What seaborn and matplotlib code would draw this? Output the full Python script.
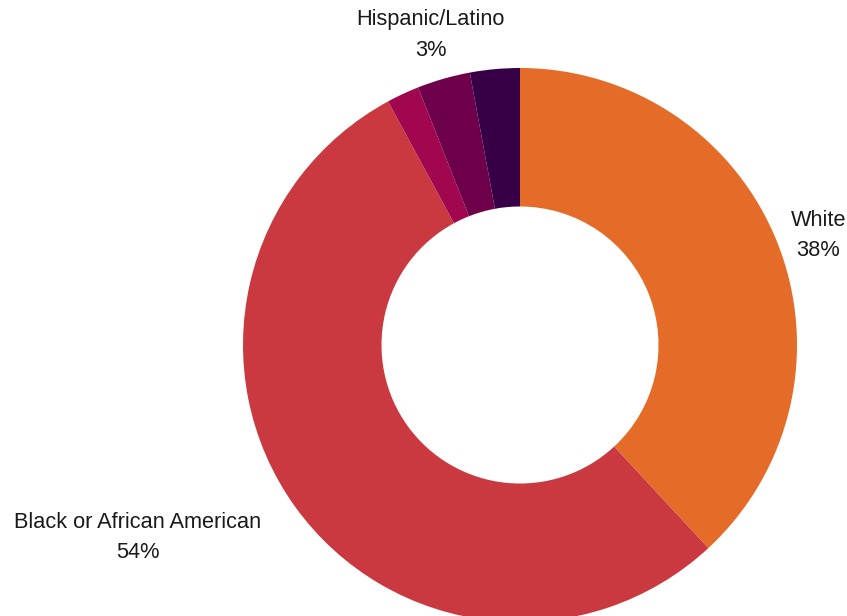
import numpy as np
import matplotlib
matplotlib.use("Agg")
import matplotlib.pyplot as plt
import seaborn as sns

# Share of students by race / ethnicity
categories = ["White", "Black or African American", "Two or More Races", "Asian", "Hispanic/Latino"]
shares = [38.1, 54.0, 1.9, 3.1, 2.9]
show_label = [True, True, False, False, True]
colors = ["#E56C28", "#CB3940", "#A0074E", "#6E004B", "#370046"]

sns.set_theme(style="white")
plt.rcParams["font.family"] = ["Liberation Sans", "DejaVu Sans"]

W, H, DPI = 847, 616, 100
fig = plt.figure(figsize=(W / DPI, H / DPI), dpi=DPI)
ax = fig.add_axes([0, 0, 1, 1])

wedges, _ = ax.pie(
    shares,
    colors=colors,
    startangle=90,
    counterclock=False,
    radius=1.0,
    wedgeprops=dict(width=0.5, linewidth=0),
)

# pixel-consistent framing: center at (520, 345) px, outer radius 277 px
R = 277.0
cx, cy = 520.0, 345.0
ax.set_xlim(-cx / R, (W - cx) / R)
ax.set_ylim(-(H - cy) / R, cy / R)
ax.set_aspect("equal")
ax.axis("off")

# Outside labels placed along each slice's mid angle, kept inside the canvas
LABEL_R = 1.15
LABEL_DROP_PX = 7
nudge_px = {"Hispanic/Latino": 14}
renderer = fig.canvas.get_renderer()
total = sum(shares)
cum = 0.0
for name, val, show in zip(categories, shares, show_label):
    mid = cum + val / 2
    cum += val
    if not show:
        continue
    theta = np.deg2rad(90 - mid / total * 360)
    x, y = LABEL_R * np.cos(theta), LABEL_R * np.sin(theta)
    x += nudge_px.get(name, 0) / R
    y -= LABEL_DROP_PX / R
    ha = "left" if x > 0 else "right"
    t = ax.text(x, y, f"{name}\n{val:.0f}%", ha=ha, va="center",
                multialignment="center", fontsize=15.7, color="#1a1a1a",
                linespacing=1.6)
    bb = t.get_window_extent(renderer)
    overflow = bb.x1 - (W - 1)
    if overflow > 0:
        t.set_x(x - overflow / R)
    underflow = 1 - bb.x0
    if underflow > 0:
        t.set_x(x + underflow / R)

fig.savefig("out.png", dpi=DPI, facecolor="white")
